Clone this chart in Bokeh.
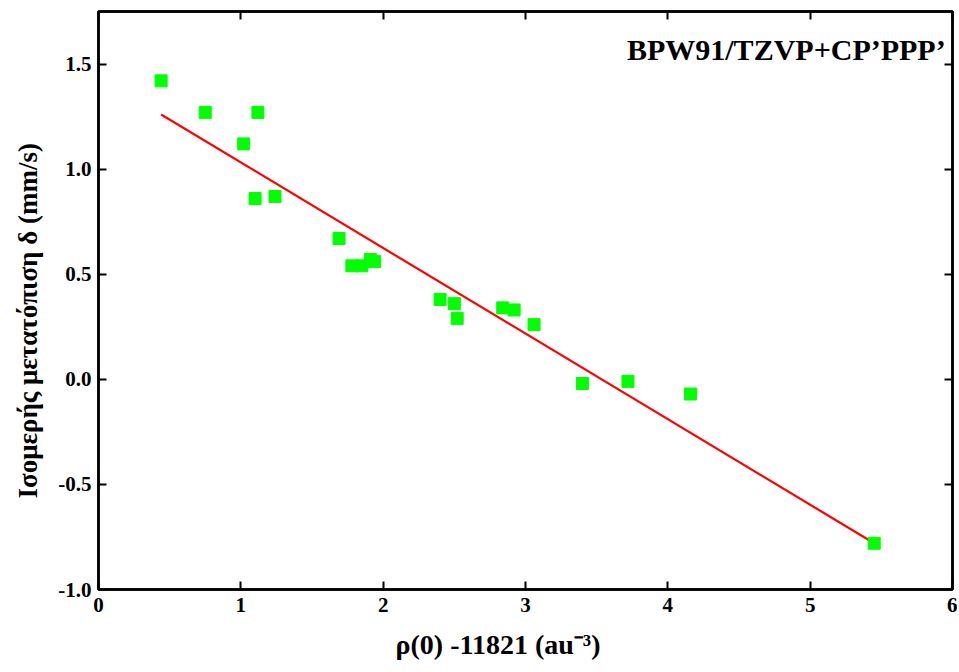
from bokeh.plotting import figure
from bokeh.models import (LinearAxis, PrintfTickFormatter, CustomJSTickFormatter,
                          Range1d, Label, Title)
from bokeh.embed import file_html
from bokeh.resources import INLINE

# data
rho = [0.44, 0.75, 1.02, 1.12, 1.10, 1.24, 1.69, 1.78, 1.85, 1.91, 1.94,
       2.40, 2.50, 2.52, 2.84, 2.92, 3.06, 3.40, 3.72, 4.16, 5.45]
delta = [1.42, 1.27, 1.12, 1.27, 0.86, 0.87, 0.67, 0.54, 0.54, 0.57, 0.56,
         0.38, 0.36, 0.29, 0.34, 0.33, 0.26, -0.02, -0.01, -0.07, -0.78]
fit_x = [0.44, 5.45]
fit_y = [1.26, -0.78]
x_ticks = [0, 1, 2, 3, 4, 5, 6]
y_ticks = [-1.0, -0.5, 0.0, 0.5, 1.0, 1.5]

title_text = "BPW91/TZVP+CP’PPP’"
x_label = "ρ(0) -11821 (au⁻³)"
y_label = "Ισομερής μετατόπιση δ (mm/s)"

FONT = "Liberation Serif"

p = figure(width=957, height=672, output_backend="svg", toolbar_location=None,
           x_range=Range1d(0, 6), y_range=Range1d(-1.0, 1.75),
           min_border_left=98, min_border_right=5, min_border_top=11, min_border_bottom=83,
           x_axis_location=None, y_axis_location=None)
p.grid.visible = False
p.outline_line_color = "black"
p.outline_line_width = 2.5
p.background_fill_color = "white"
p.border_fill_color = "white"

blank = CustomJSTickFormatter(code="return ''")


def style(ax, labels=True):
    ax.axis_line_color = "black"
    ax.axis_line_width = 2.5
    ax.major_tick_in = 8
    ax.major_tick_out = 0
    ax.minor_tick_in = 4
    ax.minor_tick_out = 0
    ax.major_tick_line_width = 2
    ax.minor_tick_line_width = 2
    ax.major_tick_line_color = "black"
    ax.minor_tick_line_color = "black"
    ax.major_label_text_font = FONT
    ax.major_label_text_font_style = "bold"
    ax.major_label_text_font_size = "21px" if labels else "1px"
    ax.major_label_text_color = "black"
    ax.major_label_standoff = 7 if labels else 0


xb = LinearAxis(ticker=x_ticks)
xb.ticker.num_minor_ticks = 2
style(xb)
xb.major_label_standoff = 8
p.add_layout(xb, "below")

yl = LinearAxis(ticker=y_ticks, formatter=PrintfTickFormatter(format="%.1f"))
yl.ticker.num_minor_ticks = 2
style(yl)
p.add_layout(yl, "left")

xt = LinearAxis(ticker=x_ticks, formatter=blank)
xt.ticker.num_minor_ticks = 2
style(xt, labels=False)
p.add_layout(xt, "above")

yr = LinearAxis(ticker=y_ticks, formatter=blank)
yr.ticker.num_minor_ticks = 2
style(yr, labels=False)
p.add_layout(yr, "right")

p.line(fit_x, fit_y, line_color="#FF0000", line_width=2.2)
p.scatter(rho, delta, marker="square", size=12, fill_color="#00FF00",
          line_color="#00FF00")

p.add_layout(Label(x=5.952, y=1.567, text=title_text, text_align="right",
                   text_baseline="alphabetic", text_font_style="bold",
                   text_font=FONT, text_font_size="30px", text_color="black"))

xt_title = Title(text=x_label, align="left", offset=297, standoff=25,
                 text_font=FONT, text_font_style="bold", text_font_size="28px",
                 text_color="black")
p.add_layout(xt_title, "below")

yt_title = Title(text=y_label, align="left", offset=91, standoff=22,
                 vertical_align="top",
                 text_font=FONT, text_font_style="bold", text_font_size="27px",
                 text_color="black")
p.add_layout(yt_title, "left")

open("out.html", "w").write(file_html(p, INLINE))
